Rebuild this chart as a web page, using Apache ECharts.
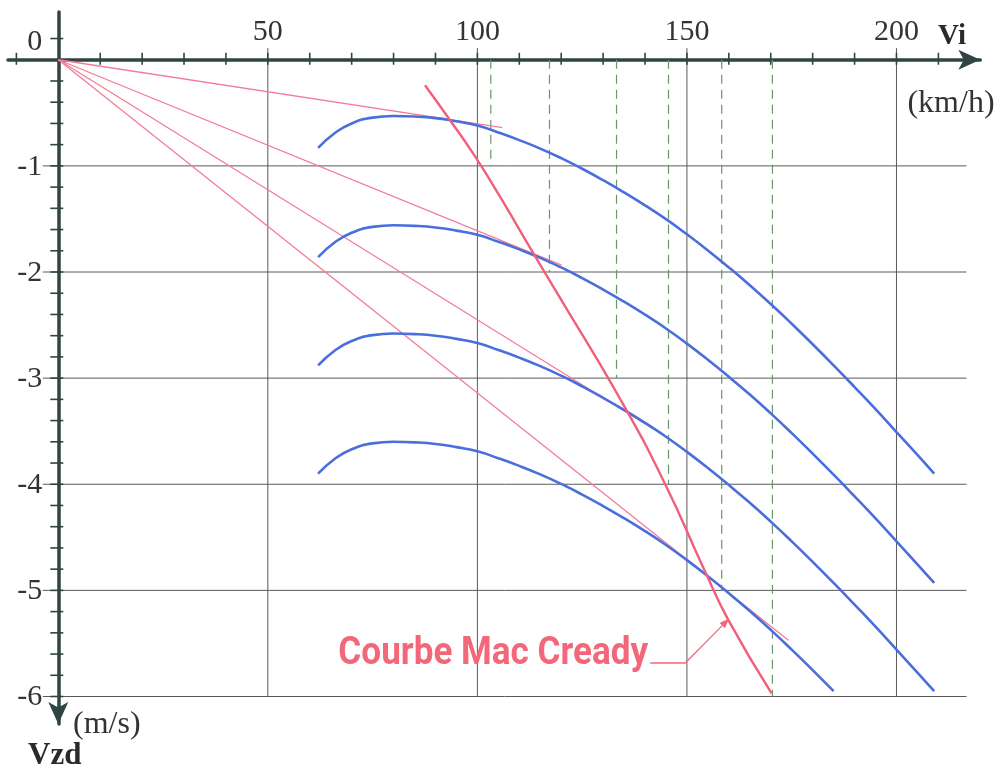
<!DOCTYPE html>
<html>
<head>
<meta charset="utf-8">
<script src="https://cdn.jsdelivr.net/npm/echarts@6/dist/echarts.min.js"></script>
<style>
  html, body { margin: 0; padding: 0; background: #ffffff; }
  #chart { width: 1001px; height: 768px; }
</style>
</head>
<body>
<div id="chart"></div>
<script>
// Glider speed polar: indicated airspeed Vi (km/h) against vertical speed Vzd (m/s),
// in still air and in air masses sinking by about 1, 2 and 3 m/s,
// with the tangents drawn from the origin and the resulting Mac Cready curve.

// ---- data ----
const polarSpeed = [62, 66, 70, 75, 80, 85, 90, 95, 100, 105, 110, 115, 120, 125, 130,
                    135, 140, 145, 150, 155, 160, 165, 170, 175, 180, 185, 190, 195, 200, 205, 209];

const sinkStillAir = [-0.83, -0.69, -0.60, -0.545, -0.53, -0.535, -0.55, -0.58, -0.62, -0.685,
                      -0.757, -0.837, -0.927, -1.027, -1.135, -1.25, -1.372, -1.502, -1.645, -1.797,
                      -1.957, -2.125, -2.302, -2.488, -2.681, -2.88, -3.084, -3.292, -3.508, -3.724, -3.90];

const sinkAirMass1 = [-1.86, -1.72, -1.63, -1.575, -1.56, -1.565, -1.58, -1.61, -1.65, -1.715,
                      -1.787, -1.867, -1.957, -2.057, -2.165, -2.28, -2.402, -2.532, -2.675, -2.827,
                      -2.987, -3.155, -3.332, -3.518, -3.711, -3.91, -4.114, -4.322, -4.538, -4.754, -4.93];

const sinkAirMass2 = [-2.88, -2.74, -2.65, -2.595, -2.58, -2.585, -2.60, -2.63, -2.67, -2.735,
                      -2.807, -2.887, -2.977, -3.077, -3.185, -3.30, -3.422, -3.552, -3.695, -3.847,
                      -4.007, -4.175, -4.352, -4.538, -4.731, -4.93, -5.134, -5.342, -5.558, -5.774, -5.95];

const polarSpeedAirMass3 = [62, 66, 70, 75, 80, 85, 90, 95, 100, 105, 110, 115, 120, 125, 130,
                            135, 140, 145, 150, 155, 160, 165, 170, 175, 180, 185];
const sinkAirMass3 = [-3.90, -3.76, -3.67, -3.615, -3.60, -3.605, -3.62, -3.65, -3.69, -3.755,
                      -3.827, -3.907, -3.997, -4.097, -4.205, -4.32, -4.442, -4.572, -4.715, -4.867,
                      -5.027, -5.195, -5.372, -5.558, -5.751, -5.95];

// tangents from the origin: far end of each line
const tangentEndSpeed = [106, 120.1, 142, 174.2];
const tangentEndSink = [-0.64, -1.935, -3.48, -5.47];

// Mac Cready curve through the tangent points
const macCreadySpeed = [87.5, 93.4, 99.6, 105.4, 113.3, 118.9, 134.4, 144.7, 154.3, 159.9, 170.2];
const macCreadySink = [-0.24, -0.565, -0.92, -1.29, -1.82, -2.19, -3.22, -3.99, -4.82, -5.28, -5.97];

// dashed verticals: speed and the depth they reach
const dashSpeed = [103.2, 117.2, 133.2, 145.6, 158.3, 170.4];
const dashDepth = [-1, -2, -3, -4, -5, -6];

// axes
const xTickLabels = [50, 100, 150, 200];
const yTickLabels = [-1, -2, -3, -4, -5, -6];
const originLabel = '0';
const xGridValues = [50, 100, 150, 200];
const yGridValues = [-1, -2, -3, -4, -5, -6];
const xTickMarks = [-10, 10, 20, 30, 40, 50, 60, 70, 80, 90, 100, 110, 120, 130, 140, 150,
                    160, 170, 180, 190, 200, 210];
const yTickMarks = [0.2, -0.2, -0.4, -0.6, -0.8, -1, -1.2, -1.4, -1.6, -1.8, -2, -2.2, -2.4, -2.6,
                    -2.8, -3, -3.2, -3.4, -3.6, -3.8, -4, -4.2, -4.4, -4.6, -4.8, -5, -5.2, -5.4,
                    -5.6, -5.8, -6];
const noteText = 'Courbe Mac Cready';
const noteTarget = [160.1, -5.265];

// ---- styles ----
const AXIS = '#2e4541';
const GRID = '#5a5a5a';
const BLUE = '#4a6edc';
const TANGENT = '#f27c98';
const MACCREADY = '#f0607a';
const NOTE = '#f2687a';
const DASH = '#6a966a';
const SERIF = '"Liberation Serif", "Times New Roman", serif';
const LABEL = '#333333';

const X_MIN = -12, X_MAX = 220, Y_MIN = -6.26, Y_MAX = 0.45;
const GRID_V_TOP = 0.11, GRID_H_LEFT = -3.7, GRID_H_RIGHT = 216.7;

const zip = (xs, ys) => xs.map((x, i) => [x, ys[i]]);

function seg(a, b, style) {
  return { type: 'line', shape: { x1: a[0], y1: a[1], x2: b[0], y2: b[1] }, style: style };
}

function label(x, y, text, font, align) {
  return { type: 'text', x: x, y: y,
           style: { text: text, font: font, fill: LABEL, align: align, verticalAlign: 'middle',
                    textAlign: align, textVerticalAlign: 'middle' } };
}

const polarLine = (name, xs, ys) => ({
  name: name, type: 'line', data: zip(xs, ys), smooth: true, symbol: 'none',
  lineStyle: { color: BLUE, width: 2.6 }, z: 4, silent: true
});

const tangentLines = tangentEndSpeed.map((s, i) => ({
  name: 'tangente ' + (i + 1), type: 'line', data: [[0, 0], [s, tangentEndSink[i]]],
  symbol: 'none', lineStyle: { color: TANGENT, width: 1.3 }, z: 3, silent: true
}));

const chart = echarts.init(document.getElementById('chart'), null, { renderer: 'canvas' });

chart.setOption({
  animation: false,
  backgroundColor: '#ffffff',
  grid: { left: 8, right: 20.7, top: 12, bottom: 43.9, containLabel: false, outerBoundsMode: 'none' },
  xAxis: {
    type: 'value', min: X_MIN, max: X_MAX, position: 'top', z: 1,
    axisLine: { show: true, onZero: true, symbol: ['none', 'arrow'], symbolSize: [15, 22],
                lineStyle: { color: AXIS, width: 3.5 } },
    axisTick: { show: false },
    splitLine: { show: false },
    axisLabel: { show: false }
  },
  yAxis: {
    type: 'value', min: Y_MIN, max: Y_MAX, position: 'left', z: 1,
    axisLine: { show: true, onZero: true, symbol: ['arrow', 'none'], symbolSize: [15, 22],
                lineStyle: { color: AXIS, width: 3.5 } },
    axisTick: { show: false },
    splitLine: { show: false },
    axisLabel: { show: false }
  },
  graphic: [
    { type: 'text', x: 952, y: 37, style: { text: 'Vi', font: 'bold 29px ' + SERIF, fill: '#2a2a2a',
      align: 'center', verticalAlign: 'middle', textAlign: 'center', textVerticalAlign: 'middle' } },
    { type: 'text', x: 951, y: 103.5, style: { text: '(km/h)', font: '32px ' + SERIF, fill: LABEL,
      align: 'center', verticalAlign: 'middle', textAlign: 'center', textVerticalAlign: 'middle' } },
    { type: 'text', x: 73, y: 725, style: { text: '(m/s)', font: '32px ' + SERIF, fill: LABEL,
      align: 'left', verticalAlign: 'middle', textAlign: 'left', textVerticalAlign: 'middle' } },
    { type: 'text', x: 28, y: 756, style: { text: 'Vzd', font: 'bold 31px ' + SERIF, fill: '#2a2a2a',
      align: 'left', verticalAlign: 'middle', textAlign: 'left', textVerticalAlign: 'middle' } }
  ],
  series: [
    // grid lines
    {
      type: 'custom', z: 0, silent: true, data: xGridValues.map(v => [v, 0]),
      renderItem: (params, api) => seg(api.coord([api.value(0), GRID_V_TOP]), api.coord([api.value(0), -6]),
                                       { stroke: GRID, lineWidth: 1 })
    },
    {
      type: 'custom', z: 0, silent: true, data: yGridValues.map(v => [0, v]),
      renderItem: (params, api) => seg(api.coord([GRID_H_LEFT, api.value(1)]), api.coord([GRID_H_RIGHT, api.value(1)]),
                                       { stroke: GRID, lineWidth: 1 })
    },
    // axis tick marks crossing the axis lines
    {
      type: 'custom', z: 2, silent: true, data: xTickMarks.map(v => [v, 0]),
      renderItem: (params, api) => {
        const p = api.coord([api.value(0), 0]);
        return seg([p[0], p[1] - 7], [p[0], p[1] + 5], { stroke: AXIS, lineWidth: 1.6 });
      }
    },
    {
      type: 'custom', z: 2, silent: true, data: yTickMarks.map(v => [0, v]),
      renderItem: (params, api) => {
        const p = api.coord([0, api.value(1)]);
        return seg([p[0] - 8, p[1]], [p[0] + 5, p[1]], { stroke: AXIS, lineWidth: 1.6 });
      }
    },
    // tick labels
    {
      type: 'custom', z: 2, silent: true, data: xTickLabels.map(v => [v, 0]),
      renderItem: (params, api) => {
        const p = api.coord([api.value(0), 0]);
        return label(p[0], p[1] - 28, String(api.value(0)), '30px ' + SERIF, 'center');
      }
    },
    {
      type: 'custom', z: 2, silent: true, data: yTickLabels.map(v => [0, v]),
      renderItem: (params, api) => {
        const p = api.coord([0, api.value(1)]);
        return label(p[0] - 16, p[1] + 1, String(api.value(1)), '30px ' + SERIF, 'right');
      }
    },
    {
      type: 'custom', z: 2, silent: true, data: [[0, 0]],
      renderItem: (params, api) => {
        const p = api.coord([0, 0]);
        return label(p[0] - 16, p[1] - 18, originLabel, '30px ' + SERIF, 'right');
      }
    },
    // dashed verticals
    {
      type: 'custom', z: 2, silent: true, data: zip(dashSpeed, dashDepth),
      renderItem: (params, api) => seg(api.coord([api.value(0), 0]), api.coord([api.value(0), api.value(1)]),
                                       { stroke: DASH, lineWidth: 1.2, lineDash: [9, 6] })
    },
    ...tangentLines,
    polarLine('air calme', polarSpeed, sinkStillAir),
    polarLine('descendance 1', polarSpeed, sinkAirMass1),
    polarLine('descendance 2', polarSpeed, sinkAirMass2),
    polarLine('descendance 3', polarSpeedAirMass3, sinkAirMass3),
    {
      name: noteText, type: 'line', data: zip(macCreadySpeed, macCreadySink), smooth: true,
      symbol: 'none', lineStyle: { color: MACCREADY, width: 2.4 }, z: 5, silent: true
    },
    // callout for the Mac Cready curve
    {
      type: 'custom', z: 6, silent: true, data: [noteTarget],
      renderItem: (params, api) => {
        const tip = api.coord([api.value(0), api.value(1)]);
        const corner = [tip[0] - 44, tip[1] + 44.5];
        const start = [corner[0] - 35, corner[1]];
        const dx = tip[0] - corner[0], dy = tip[1] - corner[1];
        const len = Math.hypot(dx, dy);
        const ux = dx / len, uy = dy / len;
        const bx = tip[0] - ux * 10, by = tip[1] - uy * 10;
        const nx = -uy, ny = ux;
        return {
          type: 'group',
          children: [
            { type: 'polyline', shape: { points: [start, corner, [bx, by]] },
              style: { stroke: NOTE, lineWidth: 1.3, fill: 'none' } },
            { type: 'polygon', shape: { points: [tip, [bx + nx * 3.8, by + ny * 3.8], [bx - nx * 3.8, by - ny * 3.8]] },
              style: { fill: NOTE } },
            { type: 'text', x: start[0] - 2, y: tip[1] + 36, scaleX: 0.9,
              style: { text: noteText, font: 'bold 39px Roboto, "Open Sans", sans-serif', fill: NOTE,
                       align: 'right', verticalAlign: 'middle', textAlign: 'right', textVerticalAlign: 'middle' } }
          ]
        };
      }
    }
  ]
});
</script>
</body>
</html>
